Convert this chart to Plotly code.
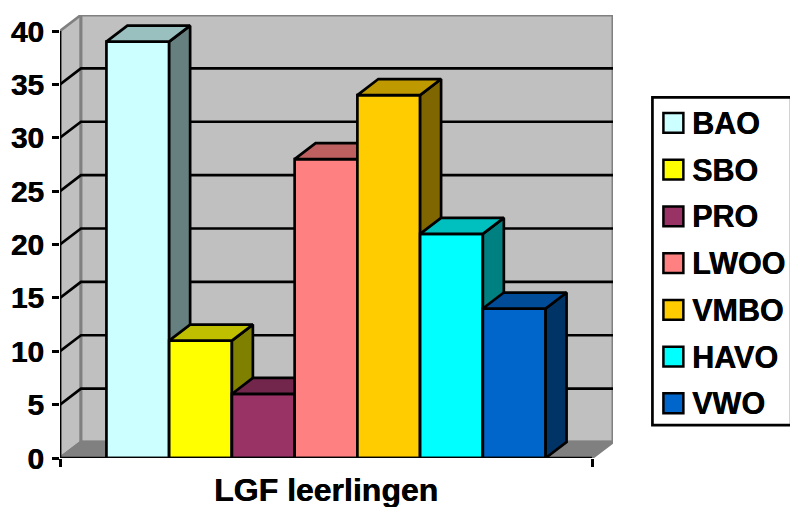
import plotly.graph_objects as go

CATEGORIES = ["BAO", "SBO", "PRO", "LWOO", "VMBO", "HAVO", "VWO"]
VALUES = [39, 11, 6, 28, 34, 21, 14]
COLORS = ["#CCFFFF", "#FFFF00", "#993366", "#FF8080", "#FFCC00", "#00FFFF", "#0066CC"]
Y_TICKS = [0, 5, 10, 15, 20, 25, 30, 35, 40]
X_TITLE = "LGF leerlingen"

W, H = 790, 507
PLOT_L, PLOT_R, PLOT_T, PLOT_B = 59.5, 613.5, 14.5, 458
DEPTH_X, DEPTH_Y = 0.334, 1.5
AXIS_L, AXIS_R = -1.24, 7.24
Y_MAX = 40
FONT = "Liberation Sans, Arial, sans-serif"
HEAVY = "0.5px 0 0 #000000"
LW = 2.7


def shade(col, f):
    r, g, b = (int(col[i:i + 2], 16) for i in (1, 3, 5))
    return f"rgb({round(r * f)},{round(g * f)},{round(b * f)})"


def px(x):
    return (x - PLOT_L) / (PLOT_R - PLOT_L)


def py(y):
    return (PLOT_B - y) / (PLOT_B - PLOT_T)


def poly(xs, ys, fill, line, z, width=LW):
    return go.Scatter(
        x=xs, y=ys, mode="lines", fill="toself", fillcolor=fill,
        line=dict(color=line, width=width), showlegend=False,
        hoverinfo="skip", cliponaxis=False, zorder=z,
    )


def seg(xs, ys, color, z, width=LW):
    return go.Scatter(
        x=xs, y=ys, mode="lines", line=dict(color=color, width=width),
        showlegend=False, hoverinfo="skip", cliponaxis=False, zorder=z,
    )


fig = go.Figure()
WALL, FLOOR, EDGE = "#C0C0C0", "#808080", "#808080"
bl, br = AXIS_L + DEPTH_X, AXIS_R + DEPTH_X
top = Y_MAX + DEPTH_Y

# walls and floor
fig.add_trace(poly([AXIS_L, bl, bl, AXIS_L, AXIS_L], [0, DEPTH_Y, top, Y_MAX, 0], WALL, EDGE, 0))
fig.add_trace(poly([bl, br, br, bl, bl], [DEPTH_Y, DEPTH_Y, top, top, DEPTH_Y], WALL, EDGE, 0, 3))
fig.add_trace(poly([AXIS_L, AXIS_R, br, bl, AXIS_L], [0, 0, DEPTH_Y, DEPTH_Y, 0], FLOOR, EDGE, 0))

# gridlines
for v in Y_TICKS[1:-1]:
    fig.add_trace(seg([AXIS_L, bl, br], [v, v + DEPTH_Y, v + DEPTH_Y], "#000000", 1))

# bars, painted left to right
for i, (name, v, col) in enumerate(zip(CATEGORIES, VALUES, COLORS)):
    z = 2 + i
    xl, xr = i - 0.5, i + 0.5
    fig.add_trace(poly([xr, xr + DEPTH_X, xr + DEPTH_X, xr, xr],
                       [0, DEPTH_Y, v + DEPTH_Y, v, 0], shade(col, 0.5), "#000000", z))
    fig.add_trace(poly([xl, xr, xr + DEPTH_X, xl + DEPTH_X, xl],
                       [v, v, v + DEPTH_Y, v + DEPTH_Y, v], shade(col, 0.75), "#000000", z))
    fig.add_trace(go.Bar(
        x=[i], y=[v], width=1, name=name, marker=dict(color=col, line=dict(color="#000000", width=LW)),
        showlegend=False, cliponaxis=False, zorder=z,
    ))

# front axis lines
fig.add_trace(seg([AXIS_L, AXIS_L], [0, Y_MAX], "#000000", 20))
fig.add_trace(seg([AXIS_L, AXIS_R], [0, 0], "#000000", 20))

# legend
shapes = [dict(type="rect", xref="paper", yref="paper", x0=px(653), x1=px(792), y0=py(97), y1=py(425),
               fillcolor="#FFFFFF", line=dict(color="#000000", width=2.7))]
annotations = []
LEG_Y0, LEG_STEP = 122.5, 46.8
for i, (name, col) in enumerate(zip(CATEGORIES, COLORS)):
    cy = LEG_Y0 + i * LEG_STEP
    shapes.append(dict(type="rect", xref="paper", yref="paper", x0=px(664), x1=px(684),
                       y0=py(cy - 10), y1=py(cy + 10), fillcolor=col,
                       line=dict(color="#000000", width=2.5)))
    annotations.append(dict(xref="paper", yref="paper", x=px(693), y=py(cy), text=f"<b>{name}</b>",
                            xanchor="left", yanchor="middle", showarrow=False, xshift=-2,
                            font=dict(family=FONT, size=30.5, color="#000000", shadow=HEAVY)))

annotations.append(dict(xref="x", yref="paper", x=(AXIS_L + AXIS_R) / 2, y=py(490.5),
                        text=f"<b>{X_TITLE}</b>", xanchor="center", yanchor="middle", showarrow=False,
                        font=dict(family=FONT, size=32, color="#000000", shadow=HEAVY)))

fig.update_layout(
    width=W, height=H,
    margin=dict(l=PLOT_L, r=W - PLOT_R, t=PLOT_T, b=H - PLOT_B, autoexpand=False),
    paper_bgcolor="#FFFFFF", plot_bgcolor="#FFFFFF", showlegend=False, barmode="overlay",
    shapes=shapes, annotations=annotations,
    xaxis=dict(range=[AXIS_L, br], showgrid=False, zeroline=False, showline=False,
               tickvals=[AXIS_L, AXIS_R], ticktext=["", ""], ticks="outside",
               ticklen=8, tickwidth=2.5, tickcolor="#000000", automargin=False),
    yaxis=dict(range=[0, top], showgrid=False, zeroline=False, showline=False,
               tickvals=Y_TICKS, ticks="outside", ticklen=7, tickwidth=2.5, tickcolor="#000000",
               tickfont=dict(family=FONT, size=30, color="#000000", weight="bold", shadow=HEAVY),
               ticklabelstandoff=2, automargin=False),
)

fig.write_html("out.html", config=dict(displayModeBar=False),
               post_script="document.body.style.margin='0';document.documentElement.style.overflow='hidden';")
